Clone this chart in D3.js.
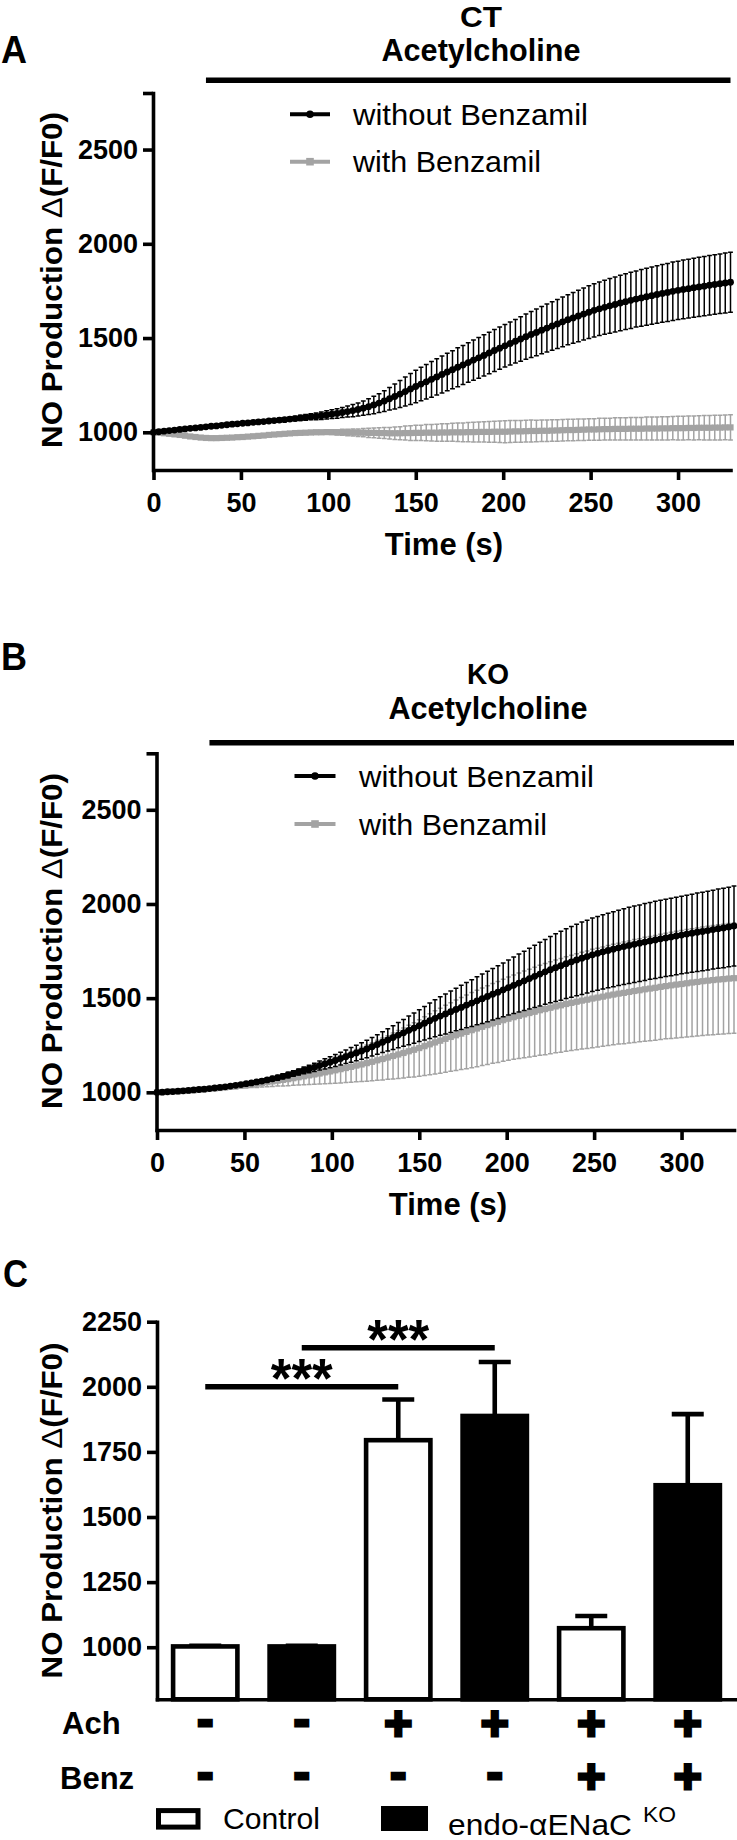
<!DOCTYPE html>
<html><head><meta charset="utf-8">
<script src="https://cdn.jsdelivr.net/npm/d3@7"></script>
<style>
html,body{margin:0;padding:0;background:#fff;}
svg{display:block;}
</style></head><body>
<svg id="fig" width="737" height="1840"></svg>
<script>
// ---------------- DATA ----------------
const time = [0,3,6,9,12,15,18,21,24,27,30,33,36,39,42,45,48,51,54,57,60,63,66,69,72,75,78,81,84,87,90,93,96,99,102,105,108,111,114,117,120,123,126,129,132,135,138,141,144,147,150,153,156,159,162,165,168,171,174,177,180,183,186,189,192,195,198,201,204,207,210,213,216,219,222,225,228,231,234,237,240,243,246,249,252,255,258,261,264,267,270,273,276,279,282,285,288,291,294,297,300,303,306,309,312,315,318,321,324,327,330];

// Panel A (CT)
const ctWithoutMean = [1000,1003,1006,1009,1012,1015,1018,1021,1023,1026,
1029,1032,1034,1037,1040,1043,1045,1048,1050,1053,
1055,1057,1060,1062,1065,1067,1070,1073,1076,1079,
1082,1085,1088,1092,1096,1100,1105,1110,1115,1121,
1128,1136,1145,1155,1166,1178,1190,1203,1216,1230,
1243,1256,1268,1281,1294,1307,1320,1332,1345,1357,
1370,1383,1395,1408,1421,1434,1446,1459,1471,1483,
1495,1507,1519,1530,1542,1553,1564,1575,1586,1597,
1607,1617,1627,1637,1647,1655,1663,1671,1678,1686,
1693,1700,1707,1713,1719,1725,1731,1737,1742,1748,
1753,1758,1762,1767,1771,1775,1780,1784,1788,1792,
1796];
const ctWithoutErr = [0,1,1,2,2,2,3,3,3,4,
4,4,5,5,5,5,6,6,6,7,
7,8,8,9,10,10,11,12,14,15,
16,18,20,22,23,25,27,29,32,35,
38,42,46,50,55,60,66,72,77,82,
86,89,92,95,96,98,100,101,103,104,
105,107,108,109,110,111,112,113,114,116,
118,120,122,124,125,127,129,130,132,133,
135,137,138,140,141,142,143,145,146,147,
148,149,149,150,151,152,153,153,154,155,
155,156,156,157,157,157,158,158,158,159,
159];
const ctWithMean = [1000,998,995,992,989,986,982,978,975,972,
970,969,969,970,971,972,974,975,977,979,
981,983,986,988,990,992,994,996,997,998,
999,1000,1000,1001,1001,1000,1000,999,999,998,
998,997,997,996,996,995,995,995,996,996,
997,997,998,998,998,999,999,1000,1000,1000,
1001,1001,1002,1002,1002,1003,1003,1003,1004,1005,
1005,1006,1007,1007,1008,1008,1009,1010,1011,1012,
1012,1013,1014,1015,1015,1016,1017,1017,1018,1018,
1018,1019,1019,1019,1020,1020,1020,1021,1021,1022,
1022,1022,1023,1023,1024,1024,1024,1025,1025,1026,
1026];
const ctWithErr = [0,0,1,1,1,2,2,2,3,3,
3,3,4,4,4,5,5,5,6,6,
6,7,7,7,8,8,8,9,9,10,
10,11,11,12,13,14,16,17,19,20,
22,24,26,28,29,31,33,35,37,39,
40,41,43,44,45,46,47,48,49,50,
51,52,53,54,55,56,57,58,58,58,
58,58,58,57,57,57,57,57,57,57,
57,57,57,57,57,58,58,58,59,59,
59,60,60,60,61,61,61,62,62,62,
63,63,63,64,64,65,65,66,66,66,
67];

// Panel B (KO)
const koWithoutMean = [1000,1001,1003,1004,1006,1008,1010,1013,1015,1017,
1020,1023,1026,1029,1033,1037,1041,1046,1050,1055,
1060,1066,1072,1078,1085,1092,1100,1108,1116,1124,
1133,1142,1151,1160,1169,1179,1189,1199,1209,1219,
1230,1242,1254,1266,1278,1291,1304,1316,1329,1341,
1354,1367,1380,1393,1405,1416,1428,1440,1451,1463,
1474,1486,1497,1509,1521,1532,1544,1556,1568,1580,
1592,1604,1616,1628,1640,1651,1662,1672,1683,1693,
1703,1712,1721,1730,1738,1746,1753,1760,1767,1774,
1780,1786,1792,1798,1804,1809,1815,1820,1825,1830,
1835,1840,1845,1850,1854,1859,1864,1869,1873,1878,
1883];
const koWithoutErr = [0,0,1,1,1,2,2,2,3,3,
3,4,4,5,5,5,6,6,7,8,
9,10,11,12,13,14,15,16,18,20,
22,24,27,29,32,34,36,39,41,44,
46,49,52,55,59,63,67,71,76,80,
84,89,94,98,102,106,110,113,117,120,
124,127,131,134,137,140,143,146,150,154,
157,161,165,169,172,176,180,183,185,188,
190,192,193,195,196,197,198,199,200,201,
202,203,203,204,204,205,205,205,206,206,
206,207,207,208,208,209,209,210,211,211,
212];
const koWithMean = [1000,1001,1002,1004,1005,1007,1009,1011,1013,1016,
1018,1021,1023,1026,1029,1032,1036,1039,1043,1046,
1050,1054,1058,1062,1066,1070,1075,1080,1085,1090,
1095,1100,1106,1111,1117,1123,1129,1135,1142,1148,
1155,1162,1170,1177,1185,1193,1201,1209,1218,1226,
1235,1245,1255,1265,1274,1284,1294,1303,1312,1321,
1330,1339,1348,1357,1366,1374,1383,1391,1399,1406,
1414,1421,1428,1436,1442,1449,1456,1462,1469,1475,
1481,1487,1492,1498,1503,1508,1514,1519,1524,1528,
1533,1538,1542,1547,1551,1555,1560,1564,1568,1572,
1575,1579,1583,1586,1590,1593,1596,1599,1601,1604,
1606];
const koWithErr = [0,1,1,2,2,3,4,4,5,6,
7,8,9,10,11,13,14,16,18,20,
22,24,27,29,32,35,38,41,45,48,
52,56,60,64,69,73,77,82,86,91,
96,101,106,111,116,122,127,133,138,144,
150,156,162,168,173,178,182,187,191,196,
200,203,206,209,212,215,218,221,224,227,
230,233,236,239,242,244,246,249,251,253,
255,257,259,261,262,264,265,267,268,270,
271,273,274,276,277,278,279,280,282,283,
284,285,286,287,288,289,290,291,291,292,
292];

const seriesNames = ["without Benzamil", "with Benzamil"];
const timeDomain = [0, 330];
const timeYDomain = [800, 2800];
const timeXTicks = [0, 50, 100, 150, 200, 250, 300];
const timeYTicks = [1000, 1500, 2000, 2500, 2800];
const timeYLabeled = [1000, 1500, 2000, 2500];
const achPeriod = [30, 330];

// Panel C (bars)
const barGroups = ["Control", "endo-αENaC KO", "Control", "endo-αENaC KO", "Control", "endo-αENaC KO"];
const barMean = [1003, 1003, 1795, 1888, 1073, 1622];
const barErr = [2, 2, 156, 207, 47, 273];
const achRow = ["-", "-", "+", "+", "+", "+"];
const benzRow = ["-", "-", "-", "-", "+", "+"];
const barYDomain = [800, 2250];
const barYTicks = [1000, 1250, 1500, 1750, 2000, 2250];
const sigFrom = [0, 1];
const sigTo = [2, 3];
const sigLevel = [2000, 2150];
const sigText = ["***", "***"];

// ---------------- DRAWING ----------------
const FONT = '"Liberation Sans", Arial, Helvetica, sans-serif';
const BLACK = "#000", GREY = "#a3a3a3";
const svg = d3.select("#fig").attr("font-family", FONT);

function fixLen(sel, len) {
  sel.attr("textLength", len).attr("lengthAdjust", "spacingAndGlyphs");
}
function styleAxis(g) {
  g.attr("font-family", FONT).attr("font-size", 27).attr("font-weight", "bold");
  g.select(".domain").attr("stroke-width", 3.6).attr("stroke-linecap", "square");
  g.selectAll(".tick line").attr("stroke-width", 3.6);
  g.selectAll(".tick text").attr("fill", "#000");
}
function yLabel(cx, cy) {
  const t = svg.append("text")
    .attr("transform", `translate(${cx},${cy}) rotate(-90)`)
    .attr("text-anchor", "middle").attr("font-size", 30).attr("font-weight", "bold");
  t.append("tspan").text("NO Production ");
  t.append("tspan").attr("font-weight", "normal").text("Δ");
  t.append("tspan").text("(F/F0)");
  fixLen(t, 336);
}

const panelLayouts = [
  { letter: "A", letterY: 63, title: "CT", titleX: 481, t1Y: 27, t2Y: 61, barY: 80.2,
    x0: 153.5, x1: 730.5, yTop: 93, yBot: 470, legX0: 290, legX1: 330, legTX: 353,
    legY: [114.3, 161.7], ylabX: 62, ylabY: 280, timeX: 444, timeY: 555 },
  { letter: "B", letterY: 670, title: "KO", titleX: 488, t1Y: 684, t2Y: 719, barY: 742.7,
    x0: 157, x1: 734, yTop: 753.3, yBot: 1130, legX0: 294.5, legX1: 335.5, legTX: 359,
    legY: [776, 824], ylabX: 62, ylabY: 941, timeX: 448, timeY: 1215 }
];
const panelData = [
  [{ mean: ctWithMean, err: ctWithErr, color: GREY, marker: "square" },
   { mean: ctWithoutMean, err: ctWithoutErr, color: BLACK, marker: "circle" }],
  [{ mean: koWithMean, err: koWithErr, color: GREY, marker: "square" },
   { mean: koWithoutMean, err: koWithoutErr, color: BLACK, marker: "circle" }]
];

panelLayouts.forEach((L, pi) => {
  const g = svg.append("g");
  const x = d3.scaleLinear().domain(timeDomain).range([L.x0, L.x1]);
  const y = d3.scaleLinear().domain(timeYDomain).range([L.yBot, L.yTop]);

  // panel letter & titles
  const pl = svg.append("text").attr("x", 1).attr("y", L.letterY).attr("font-size", 38)
    .attr("font-weight", "bold").text(L.letter);
  fixLen(pl, 26);
  const t1 = svg.append("text").attr("x", L.titleX).attr("y", L.t1Y).attr("text-anchor", "middle")
    .attr("font-size", 29).attr("font-weight", "bold").text(L.title);
  fixLen(t1, 42);
  const t2 = svg.append("text").attr("x", L.titleX).attr("y", L.t2Y).attr("text-anchor", "middle")
    .attr("font-size", 32).attr("font-weight", "bold").text("Acetylcholine");
  fixLen(t2, 199);
  // acetylcholine application bar
  svg.append("line").attr("x1", x(achPeriod[0])).attr("x2", x(achPeriod[1]))
    .attr("y1", L.barY).attr("y2", L.barY).attr("stroke", "#000").attr("stroke-width", 5.6);

  // series
  const cap = 2.4;
  panelData[pi].forEach(s => {
    const p = d3.path();
    time.forEach((t, i) => {
      const cx = x(t), lo = y(s.mean[i] - s.err[i]), hi = y(s.mean[i] + s.err[i]);
      if (s.err[i] > 0) {
        p.moveTo(cx, lo); p.lineTo(cx, hi);
        p.moveTo(cx - cap, lo); p.lineTo(cx + cap, lo);
        p.moveTo(cx - cap, hi); p.lineTo(cx + cap, hi);
      }
    });
    g.append("path").attr("d", p.toString()).attr("fill", "none")
      .attr("stroke", s.color).attr("stroke-width", 1.5);
    const line = d3.line().x((d, i) => x(time[i])).y(d => y(d));
    g.append("path").attr("d", line(s.mean)).attr("fill", "none")
      .attr("stroke", s.color).attr("stroke-width", 4.5);
    if (s.marker === "circle") {
      g.selectAll(null).data(s.mean).join("circle")
        .attr("cx", (d, i) => x(time[i])).attr("cy", d => y(d)).attr("r", 3.4).attr("fill", s.color);
    } else {
      g.selectAll(null).data(s.mean).join("rect")
        .attr("x", (d, i) => x(time[i]) - 3.1).attr("y", d => y(d) - 3.1)
        .attr("width", 6.2).attr("height", 6.2).attr("fill", s.color);
    }
  });

  // axes
  const ax = svg.append("g").attr("transform", `translate(0,${L.yBot})`)
    .call(d3.axisBottom(x).tickValues(timeXTicks).tickSize(10).tickSizeOuter(0).tickPadding(13));
  styleAxis(ax);
  const ay = svg.append("g").attr("transform", `translate(${L.x0 - 0.5},0)`)
    .call(d3.axisLeft(y).tickValues(timeYTicks).tickSize(10).tickSizeOuter(0).tickPadding(5)
      .tickFormat(d => timeYLabeled.includes(d) ? d : ""));
  styleAxis(ay);

  svg.append("text").attr("x", L.timeX).attr("y", L.timeY).attr("text-anchor", "middle")
    .attr("font-size", 31).attr("font-weight", "bold").text("Time (s)");
  yLabel(L.ylabX, L.ylabY);

  // legend (black first row, grey second row)
  const legOrder = [panelData[pi][1], panelData[pi][0]];
  const legLen = [235, 188];
  legOrder.forEach((s, k) => {
    const ly = L.legY[k];
    svg.append("line").attr("x1", L.legX0).attr("x2", L.legX1).attr("y1", ly).attr("y2", ly)
      .attr("stroke", s.color).attr("stroke-width", 4);
    const mx = (L.legX0 + L.legX1) / 2;
    if (s.marker === "circle") svg.append("circle").attr("cx", mx).attr("cy", ly).attr("r", 3.8).attr("fill", s.color);
    else svg.append("rect").attr("x", mx - 3.8).attr("y", ly - 3.8).attr("width", 7.6).attr("height", 7.6).attr("fill", s.color);
    const lt = svg.append("text").attr("x", L.legTX).attr("y", ly + 10.5).attr("font-size", 30)
      .text(seriesNames[k]);
    fixLen(lt, legLen[k]);
  });
});

// ---------------- PANEL C ----------------
(function () {
  const x0 = 157, x1 = 736, yB = 1699.3, yT = 1321.7;
  const idx = d3.range(barMean.length);
  const x = d3.scaleBand().domain(idx).range([x0, x1]).paddingInner(0.286).paddingOuter(0.143);
  const y = d3.scaleLinear().domain(barYDomain).range([yB, yT]);
  const sw = 4.6;
  const isKO = g => g !== "Control";

  const pl = svg.append("text").attr("x", 3).attr("y", 1287).attr("font-size", 38)
    .attr("font-weight", "bold").text("C");
  fixLen(pl, 25);

  // error bars (upward)
  const eg = svg.append("g");
  idx.forEach(i => {
    const cx = x(i) + x.bandwidth() / 2;
    eg.append("line").attr("x1", cx).attr("x2", cx).attr("y1", y(barMean[i])).attr("y2", y(barMean[i] + barErr[i]))
      .attr("stroke", "#000").attr("stroke-width", sw);
    eg.append("line").attr("x1", cx - 16).attr("x2", cx + 16).attr("y1", y(barMean[i] + barErr[i])).attr("y2", y(barMean[i] + barErr[i]))
      .attr("stroke", "#000").attr("stroke-width", sw);
  });
  // bars
  svg.append("g").selectAll("rect").data(idx).join("rect")
    .attr("x", i => x(i) + sw / 2).attr("width", x.bandwidth() - sw)
    .attr("y", i => y(barMean[i])).attr("height", i => y(barYDomain[0]) - y(barMean[i]))
    .attr("fill", i => isKO(barGroups[i]) ? "#000" : "#fff")
    .attr("stroke", "#000").attr("stroke-width", sw);

  // significance
  idx.slice(0, sigFrom.length).forEach(k => {
    const a = x(sigFrom[k]) + x.bandwidth() / 2, b = x(sigTo[k]) + x.bandwidth() / 2;
    svg.append("line").attr("x1", a).attr("x2", b).attr("y1", y(sigLevel[k])).attr("y2", y(sigLevel[k]))
      .attr("stroke", "#000").attr("stroke-width", 5.5);
    const st = svg.append("text").attr("x", (a + b) / 2).attr("y", y(sigLevel[k]) + 10)
      .attr("text-anchor", "middle").attr("font-size", 56).attr("font-weight", "bold").text(sigText[k]);
    fixLen(st, 62);
  });

  // axes
  const ax = svg.append("g").attr("transform", `translate(0,${yB})`)
    .call(d3.axisBottom(d3.scaleLinear().range([x0, x1])).tickValues([]).tickSizeOuter(0));
  styleAxis(ax);
  const ay = svg.append("g").attr("transform", `translate(${x0},0)`)
    .call(d3.axisLeft(y).tickValues(barYTicks).tickSize(10).tickSizeOuter(0).tickPadding(5)
      .tickFormat(d3.format("d")));
  styleAxis(ay);
  yLabel(62, 1510.5);

  // treatment rows
  const rows = [{ name: "Ach", vals: achRow, nameX: 62, nameY: 1734, cy: 1723 },
                { name: "Benz", vals: benzRow, nameX: 60, nameY: 1789, cy: 1776 }];
  rows.forEach(r => {
    svg.append("text").attr("x", r.nameX).attr("y", r.nameY).attr("font-size", 31)
      .attr("font-weight", "bold").text(r.name);
    svg.append("g").selectAll("text").data(r.vals).join("text")
      .attr("x", (d, i) => x(i) + x.bandwidth() / 2)
      .attr("y", d => r.cy + (d === "+" ? 17 : 12.5))
      .attr("text-anchor", "middle").attr("font-size", 48).attr("font-weight", "bold")
      .attr("stroke", "#000").attr("stroke-width", 3).text(d => d);
  });

  // legend
  svg.append("rect").attr("x", 158.5).attr("y", 1810.6).attr("width", 39.5).attr("height", 16.5)
    .attr("fill", "#fff").attr("stroke", "#000").attr("stroke-width", 5);
  const c1 = svg.append("text").attr("x", 223).attr("y", 1829).attr("font-size", 30).text(barGroups[0]);
  fixLen(c1, 97);
  svg.append("rect").attr("x", 381).attr("y", 1806).attr("width", 47).attr("height", 25).attr("fill", "#000");
  const c2 = svg.append("text").attr("x", 448).attr("y", 1835).attr("font-size", 30).text("endo-αENaC");
  fixLen(c2, 184);
  const c3 = svg.append("text").attr("x", 643).attr("y", 1822).attr("font-size", 22).text("KO");
  fixLen(c3, 33);
})();
</script>
</body></html>
